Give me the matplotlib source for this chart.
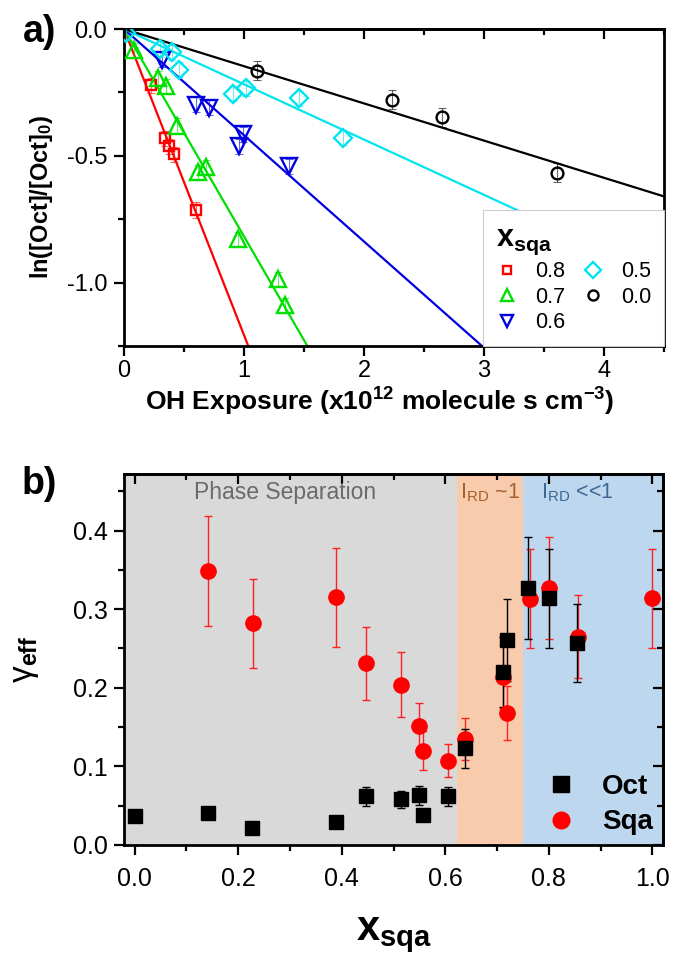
import matplotlib
matplotlib.use("Agg")
import matplotlib.pyplot as plt
import numpy as np
from matplotlib.ticker import MultipleLocator, NullFormatter
from matplotlib.lines import Line2D

plt.rcParams['font.family'] = ['Liberation Sans', 'DejaVu Sans']
plt.rcParams['mathtext.fontset'] = 'custom'
plt.rcParams['mathtext.rm'] = 'Liberation Sans'
plt.rcParams['mathtext.bf'] = 'Liberation Sans:bold'
plt.rcParams['mathtext.it'] = 'Liberation Sans:italic'

# ---------------- Panel a data ----------------
series_labels = ['0.8', '0.7', '0.6', '0.5', '0.0']
exp_08 = [0.225, 0.344, 0.378, 0.417, 0.600]
ln_08 = [-0.222, -0.431, -0.462, -0.494, -0.714]
exp_07 = [0.083, 0.281, 0.350, 0.439, 0.619, 0.683, 0.947, 1.280, 1.340]
ln_07 = [-0.084, -0.194, -0.226, -0.381, -0.565, -0.546, -0.830, -0.987, -1.090]
exp_06 = [0.314, 0.600, 0.711, 0.994, 0.961, 1.378]
ln_06 = [-0.121, -0.298, -0.311, -0.416, -0.462, -0.541]
exp_05 = [0.020, 0.300, 0.397, 0.461, 0.911, 1.017, 1.456, 1.828]
ln_05 = [-0.015, -0.079, -0.092, -0.160, -0.255, -0.234, -0.273, -0.429]
exp_00 = [1.106, 2.230, 2.647, 3.606]
ln_00 = [-0.164, -0.278, -0.348, -0.567]
err_a = [0.030, 0.030, 0.030, 0.030, 0.038]
fit_slopes = [-1.207, -0.818, -0.419, -0.218, -0.1467]

# ---------------- Panel b data ----------------
x_oct = [0.000, 0.142, 0.227, 0.388, 0.446, 0.514, 0.550, 0.557, 0.606, 0.638, 0.712, 0.720, 0.760, 0.800, 0.855]
g_oct = [0.037, 0.041, 0.021, 0.029, 0.062, 0.058, 0.063, 0.038, 0.062, 0.123, 0.220, 0.261, 0.327, 0.314, 0.257]
e_oct = [0.005, 0.006, 0.004, 0.004, 0.012, 0.011, 0.012, 0.006, 0.012, 0.025, 0.044, 0.052, 0.065, 0.063, 0.050]
x_sqa = [0.142, 0.228, 0.389, 0.446, 0.514, 0.550, 0.557, 0.606, 0.638, 0.712, 0.720, 0.763, 0.800, 0.857, 1.000]
g_sqa = [0.349, 0.282, 0.315, 0.231, 0.204, 0.151, 0.120, 0.107, 0.135, 0.214, 0.168, 0.313, 0.327, 0.265, 0.314]
e_sqa = [0.070, 0.057, 0.063, 0.046, 0.041, 0.030, 0.025, 0.021, 0.027, 0.040, 0.034, 0.063, 0.065, 0.053, 0.063]
region_edges = [-0.02, 0.622, 0.751, 1.02]
region_colors = ['#d9d9d9', '#f8cbad', '#bdd7ee']

fig = plt.figure(figsize=(6.75, 9.6), dpi=100)


def style_ticks(ax, xmaj, xmin, ymaj, ymin, labelsize, xpad, ypad, inner_right):
    ax.xaxis.set_major_locator(MultipleLocator(xmaj))
    ax.xaxis.set_minor_locator(MultipleLocator(xmin))
    ax.yaxis.set_major_locator(MultipleLocator(ymaj))
    ax.yaxis.set_minor_locator(MultipleLocator(ymin))
    ax.tick_params(axis='both', which='major', direction='out', length=7, width=1.6, labelsize=labelsize)
    ax.tick_params(axis='both', which='minor', direction='out', length=4, width=1.6)
    ax.tick_params(axis='x', which='both', pad=xpad)
    ax.tick_params(axis='y', which='both', pad=ypad)
    for s in ax.spines.values():
        s.set_linewidth(2)
    top = ax.secondary_xaxis('top')
    top.xaxis.set_major_locator(MultipleLocator(xmaj))
    top.xaxis.set_minor_locator(MultipleLocator(xmin))
    top.xaxis.set_major_formatter(NullFormatter())
    top.tick_params(axis='x', which='major', direction='in', length=7, width=1.6)
    top.tick_params(axis='x', which='minor', direction='in', length=4, width=1.6)
    top.spines['top'].set_linewidth(2)
    if inner_right:
        right = ax.secondary_yaxis('right')
        right.yaxis.set_major_locator(MultipleLocator(ymaj))
        right.yaxis.set_minor_locator(MultipleLocator(ymin))
        right.yaxis.set_major_formatter(NullFormatter())
        right.tick_params(axis='y', which='major', direction='in', length=7, width=1.6)
        right.tick_params(axis='y', which='minor', direction='in', length=4, width=1.6)
        right.spines['right'].set_linewidth(2)


# ================= Panel a =================
ax1 = fig.add_axes([124/675, 1-346/960, 540/675, 317/960])
xs = [exp_08, exp_07, exp_06, exp_05, exp_00]
ys = [ln_08, ln_07, ln_06, ln_05, ln_00]
colors = ['#ff0000', '#00e000', '#0000e0', '#00e5ee', '#000000']
markers = ['s', '^', 'v', 'D', 'o']
msizes = [7.5, 11, 11, 9, 8.5]
xfit = np.array([0.0, 4.5])
for k in range(5):
    ax1.plot(xfit, fit_slopes[k]*xfit, color=colors[k], lw=1.6, zorder=2)
handles = []
for k in range(5):
    ax1.errorbar(xs[k], ys[k], yerr=err_a[k], fmt='none', ecolor=colors[k],
                 elinewidth=0.8, capsize=3, capthick=0.8, alpha=0.6, zorder=3)
    ax1.plot(xs[k], ys[k], linestyle='none', marker=markers[k], ms=msizes[k],
             mfc='none', mec=colors[k], mew=1.7, zorder=4)
    handles.append(Line2D([], [], linestyle='none', marker=markers[k], ms=msizes[k]*0.85,
                          mfc='none', mec=colors[k], mew=1.7, label=series_labels[k]))
ax1.set_xlim(0, 4.5)
ax1.set_ylim(-1.25, 0)
style_ticks(ax1, 1, 0.5, 0.5, 0.25, 17, 3, 5, False)
ax1.set_xticks([0, 1, 2, 3, 4])
ax1.set_xticklabels(['0', '1', '2', '3', '4'])
ax1.set_yticks([0, -0.5, -1.0])
ax1.set_yticklabels(['0.0', '-0.5', '-1.0'])
ax1.set_xlabel(r'OH Exposure (x10$^{\mathbf{12}}$ molecule s cm$^{\mathbf{-3}}$)',
               fontsize=19, fontweight='bold')
ax1.xaxis.set_label_coords(0.474, -0.125)
ax1.set_ylabel(r'ln([Oct]/[Oct]$_{\mathbf{0}}$)', fontsize=17, fontweight='bold')
ax1.yaxis.set_label_coords(-0.128, 0.47)
leg = ax1.legend(handles=handles, ncol=2, loc='lower right', borderaxespad=0,
                 title=r'$\mathbf{x}_{\mathbf{sqa}}$', title_fontsize=22,
                 prop={'size': 15.5},
                 fancybox=False, framealpha=1, edgecolor='#cccccc',
                 handlelength=1.0, handletextpad=0.8, columnspacing=0.8,
                 labelspacing=0.2, borderpad=0.6)
leg._legend_box.align = 'left'
leg.get_frame().set_linewidth(0.8)
fig.text(23/675, 1-32/960, 'a)', fontsize=27, fontweight='bold', va='center', ha='left')

# ================= Panel b =================
ax2 = fig.add_axes([124.3/675, 1-845/960, 538.4/675, 370.7/960])
for i in range(3):
    ax2.axvspan(region_edges[i], region_edges[i+1], color=region_colors[i], lw=0, zorder=0)
ax2.errorbar(x_sqa, g_sqa, yerr=e_sqa, fmt='none', ecolor='#ff2020', elinewidth=1.0,
             capsize=3, capthick=1.0, zorder=3)
ax2.errorbar(x_oct, g_oct, yerr=e_oct, fmt='none', ecolor='#000000', elinewidth=1.0,
             capsize=3, capthick=1.0, zorder=3)
ax2.plot(x_sqa, g_sqa, linestyle='none', marker='o', ms=11, mfc='#ff0000', mec='#ff0000',
         zorder=4, label='Sqa')
ax2.plot(x_oct, g_oct, linestyle='none', marker='s', ms=10, mfc='#000000', mec='#000000',
         zorder=5, label='Oct')
ax2.set_xlim(region_edges[0], region_edges[-1])
ax2.set_ylim(0, 0.4716)
style_ticks(ax2, 0.2, 0.1, 0.1, 0.05, 18, 9, 5, True)
ax2.set_xticks([0.0, 0.2, 0.4, 0.6, 0.8, 1.0])
ax2.set_xticklabels(['0.0', '0.2', '0.4', '0.6', '0.8', '1.0'])
ax2.set_yticks([0.0, 0.1, 0.2, 0.3, 0.4])
ax2.set_yticklabels(['0.0', '0.1', '0.2', '0.3', '0.4'])
ax2.set_xlabel(r'$\mathbf{x}_{\mathbf{sqa}}$', fontsize=30)
ax2.xaxis.set_label_coords(0.5, -0.19)
ax2.set_ylabel(r'$\mathrm{\gamma}_{\mathbf{eff}}$', fontsize=24)
ax2.yaxis.set_label_coords(-0.155, 0.5)
ax2.text(0.29, 0.448, 'Phase Separation', fontsize=16.5, color='#6a6a6a', ha='center', va='center')
ax2.text(0.686, 0.448, r'I$_{\mathrm{RD}}$ ~1', fontsize=15.5, color='#a65e2e', ha='center', va='center')
ax2.text(0.855, 0.448, r'I$_{\mathrm{RD}}$ <<1', fontsize=15.5, color='#3d6894', ha='center', va='center')
lh = [Line2D([], [], linestyle='none', marker='s', ms=11, mfc='k', mec='k', label='Oct'),
      Line2D([], [], linestyle='none', marker='o', ms=12, mfc='#ff0000', mec='#ff0000', label='Sqa')]
leg2 = ax2.legend(handles=lh, loc='lower right', frameon=False, prop={'size': 20, 'weight': 'bold'},
                  handlelength=1.0, handletextpad=0.97, labelspacing=0.35,
                  borderpad=0.2, borderaxespad=0.15)
fig.text(22/675, 1-484/960, 'b)', fontsize=27, fontweight='bold', va='center', ha='left')

fig.savefig('out.png', dpi=100)
